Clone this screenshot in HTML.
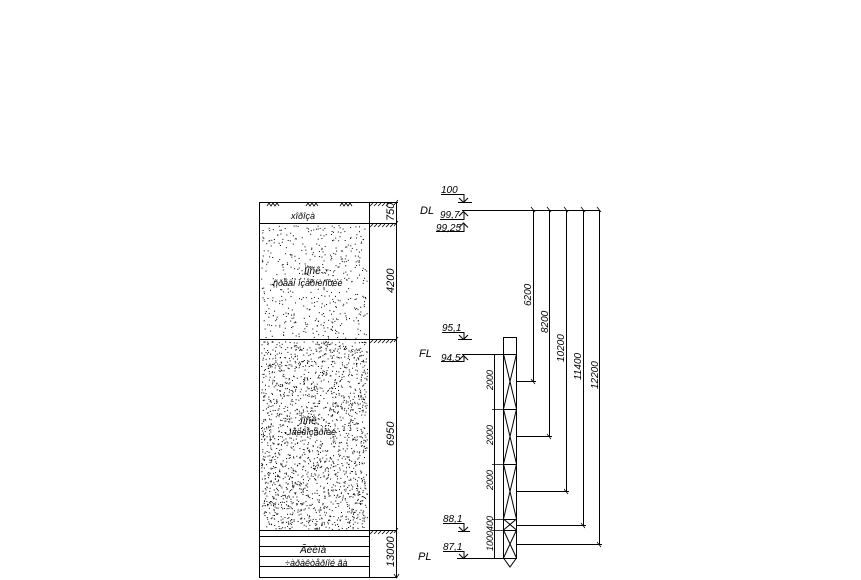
<!DOCTYPE html>
<html><head><meta charset="utf-8"><style>
html,body{margin:0;padding:0;background:#fff;width:861px;height:580px;overflow:hidden}
svg text{font-family:"Liberation Sans",sans-serif;font-style:italic;fill:#000}
</style></head><body>
<svg id="s" width="861" height="580" viewBox="0 0 861 580" xmlns="http://www.w3.org/2000/svg" stroke="#000" stroke-width="1" fill="none">
<g id="dots" stroke="none" fill="#000"></g>
<!-- soil column -->
<rect x="259.5" y="202.5" width="110" height="375"/>
<line x1="259" y1="223.5" x2="396" y2="223.5"/>
<line x1="259" y1="339.5" x2="396" y2="339.5"/>
<line x1="259" y1="530.5" x2="396" y2="530.5"/>
<line x1="259" y1="536.5" x2="369" y2="536.5"/>
<line x1="259" y1="546.5" x2="369" y2="546.5"/>
<line x1="259" y1="556.5" x2="369" y2="556.5"/>
<line x1="259" y1="566.5" x2="369" y2="566.5"/>
<line x1="369" y1="577.5" x2="396" y2="577.5"/>
<line x1="396.5" y1="202" x2="396.5" y2="578"/>
<line x1="369" y1="202.5" x2="398" y2="202.5"/>
<!-- grass marks -->
<g stroke-width="0.8">
<path d="M267 206 l2 -3 l2 3 l2 -3 l2 3 l2 -3 l2 3"/>
<path d="M306 206 l2 -3 l2 3 l2 -3 l2 3 l2 -3 l2 3"/>
<path d="M340 206 l2 -3 l2 3 l2 -3 l2 3 l2 -3 l2 3"/>
</g>
<!-- hatches -->
<g stroke-width="0.8">
<path d="M370 206 l3 -3 M374 206 l3 -3 M378 206 l3 -3 M382 206 l3 -3 M386 206 l3 -3"/>
<path d="M370 227 l3 -3 M374 227 l3 -3 M378 227 l3 -3 M382 227 l3 -3 M386 227 l3 -3 M390 227 l3 -3"/>
<path d="M370 343 l3 -3 M374 343 l3 -3 M378 343 l3 -3 M382 343 l3 -3 M386 343 l3 -3 M390 343 l3 -3"/>
<path d="M370 534 l3 -3 M374 534 l3 -3 M378 534 l3 -3 M382 534 l3 -3 M386 534 l3 -3 M390 534 l3 -3"/>
</g>
<g stroke-width="0.8">
<path d="M394 205 l4 -5 M394 226 l4 -5 M394 342 l4 -5 M394 533 l4 -5"/>
<path d="M394 574 l2.5 4 l2.5 -4"/>
</g>
<g stroke="none" font-size="10">
<text x="291" y="219" font-size="9">хîðîçà</text>
<text x="304" y="274" font-size="10">Ïîñê</text>
<text x="273" y="286" font-size="9">ñðåäí ìçåðíèñòèé</text>
<text x="300" y="424" font-size="10">Ïîñê</text>
<text x="289" y="435" font-size="9">ìåëêîçåðíèé</text>
<text x="300" y="553" font-size="10">Ãëèíà</text>
<text x="285" y="566" font-size="9">÷àðàêòåðíîé ãà</text>
<text transform="translate(394,221) rotate(-90)" font-size="11">750</text>
<text transform="translate(394,293) rotate(-90)" font-size="11">4200</text>
<text transform="translate(394,446) rotate(-90)" font-size="11">6950</text>
<text transform="translate(394,567) rotate(-90)" font-size="11">13000</text>
</g>
<!-- right part -->
<line x1="462" y1="210.5" x2="600" y2="210.5"/>
<line x1="462" y1="354.5" x2="503" y2="354.5"/>
<line x1="457" y1="558.5" x2="503" y2="558.5"/>
<g>
<path d="M441 194.5 H464 V202 M459 198 l4.5 4.5 l4.5 -4.5 M458 202.5 H472"/>
<path d="M440 219.5 H464 V212 M459 216 l4.5 -4.5 l4.5 4.5"/>
<path d="M436 231.5 H464 V223 M459 227.5 l4.5 -4.5 l4.5 4.5"/>
<path d="M442 332.5 H464 V339 M459 335 l4.5 4.5 l4.5 -4.5 M458 339.5 H472"/>
<path d="M441 361.5 H464 V356 M459 360 l4.5 -4.5 l4.5 4.5"/>
<path d="M443 523.5 H464 V531 M459 527 l4.5 4.5 l4.5 -4.5 M458 531.5 H470"/>
<path d="M443 551.5 H464 V558 M459 554 l4.5 4.5 l4.5 -4.5"/>
</g>
<!-- vertical dims -->
<path d="M533.5 210 V381 M516 381.5 H536"/>
<path d="M549.5 210 V436 M516 436.5 H552"/>
<path d="M566.5 210 V491 M516 491.5 H569"/>
<path d="M583.5 210 V525 M516 525.5 H586"/>
<path d="M599.5 210 V544 M516 544.5 H602"/>
<g stroke-width="0.8">
<path d="M531 207 l4 5 M547 207 l4 5 M564 207 l4 5 M581 207 l4 5 M597 207 l4 5"/>
<path d="M531 379 l4 5 M547 434 l4 5 M564 489 l4 5 M581 523 l4 5 M597 542 l4 5"/>
</g>
<!-- pipe -->
<rect x="503.5" y="337.5" width="13" height="221"/>
<path d="M503 354.5 H517 M503 409.5 H517 M503 464.5 H517 M503 519.5 H517 M503 530.5 H517"/>
<path d="M503.5 354 L516.5 409 M516.5 354 L503.5 409 M503.5 409 L516.5 464 M516.5 409 L503.5 464 M503.5 464 L516.5 519 M516.5 464 L503.5 519 M503.5 519 L516.5 530 M516.5 519 L503.5 530 M503.5 530 L516.5 558 M516.5 530 L503.5 558"/>
<path d="M503.5 558 L510 567 L516.5 558"/>
<line x1="494.5" y1="354" x2="494.5" y2="558"/>
<path d="M492 354.5 H503 M492 409.5 H503 M492 464.5 H503 M492 519.5 H503 M492 530.5 H503" stroke-width="0.8"/>
<g stroke="none">
<text x="420" y="214" font-size="11">DL</text>
<text x="419" y="357" font-size="11">FL</text>
<text x="418" y="560" font-size="11">PL</text>
<text x="441" y="193" font-size="10">100</text>
<text x="440" y="218" font-size="10">99,7</text>
<text x="436" y="231" font-size="10">99,25</text>
<text x="442" y="331" font-size="10">95,1</text>
<text x="441" y="361" font-size="10">94,5</text>
<text x="443" y="522" font-size="10">88,1</text>
<text x="443" y="550" font-size="10">87,1</text>
<g font-size="9">
<text transform="translate(493,390) rotate(-90)">2000</text>
<text transform="translate(493,445) rotate(-90)">2000</text>
<text transform="translate(493,490) rotate(-90)">2000</text>
<text transform="translate(493,531) rotate(-90)">400</text>
<text transform="translate(493,551) rotate(-90)">1000</text>
</g>
<g font-size="10">
<text transform="translate(531,306) rotate(-90)">6200</text>
<text transform="translate(548,333) rotate(-90)">8200</text>
<text transform="translate(564,362) rotate(-90)">10200</text>
<text transform="translate(581,380) rotate(-90)">11400</text>
<text transform="translate(598,389) rotate(-90)">12200</text>
</g>
</g>
</svg>
<script>
(function(){
var g=document.getElementById('dots'),s=12345,h='';
function r(){s=(s*1103515245+12345)%2147483648;return s/2147483648;}
function fill(y0,y1,n){for(var i=0;i<n;i++){var x=261+r()*106,y=y0+r()*(y1-y0);h+='<rect x="'+x.toFixed(1)+'" y="'+y.toFixed(1)+'" width="1" height="1"/>';}}
fill(225,338,500);fill(341,529,1900);
g.innerHTML=h;
})();
</script>
</body></html>
